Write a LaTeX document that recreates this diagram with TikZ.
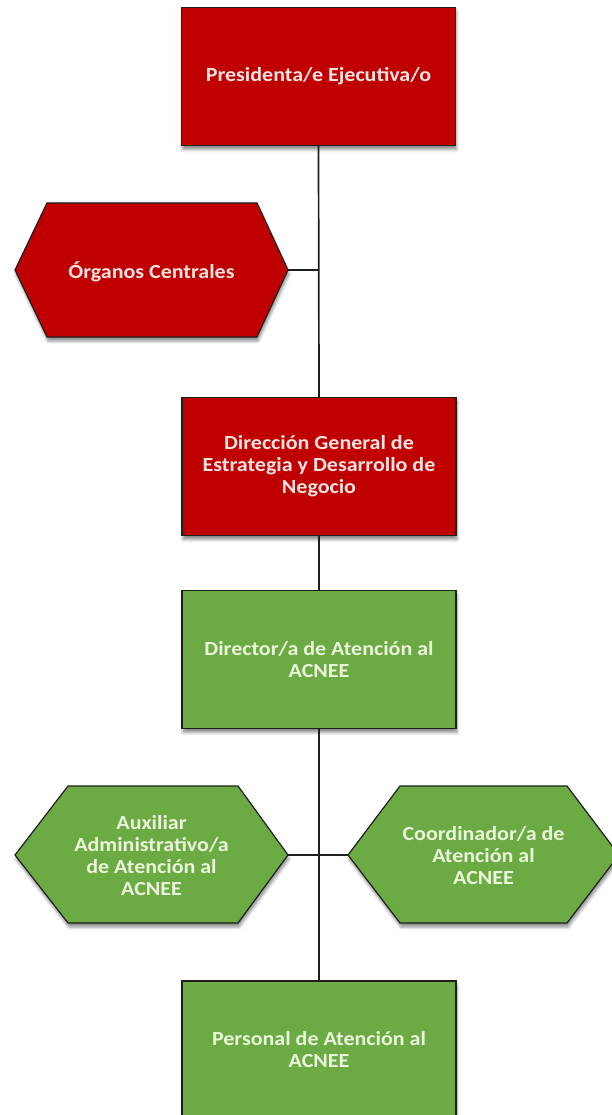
\documentclass[tikz,border=0pt]{standalone}
\usepackage{fontspec}
\setmainfont{Carlito}
\newfontfamily\boxfont[FakeStretch=1.1]{Carlito}
\usetikzlibrary{shadows.blur}
\definecolor{boxred}{HTML}{C00000}
\definecolor{boxgreen}{HTML}{6CAA44}
\definecolor{txtred}{HTML}{F8E4E2}
\definecolor{txtgreen}{HTML}{EAF6DC}
\definecolor{edge}{HTML}{1E1E1E}
\tikzset{
  shad/.style={blur shadow={shadow xshift=1pt, shadow yshift=-4pt, shadow blur radius=3pt, shadow opacity=45}},
  redbox/.style={draw=edge, line width=1.2pt, fill=boxred, shad, minimum width=274pt, minimum height=138pt, inner sep=0pt, text=txtred, font=\boxfont\fontsize{20}{22}\selectfont\bfseries, align=center},
  greenbox/.style={redbox, fill=boxgreen, text=txtgreen},
  redhex/.style={draw=edge, line width=1.2pt, fill=boxred, shad},
  greenhex/.style={redhex, fill=boxgreen},
  redtxt/.style={text=txtred, font=\boxfont\fontsize{20}{22}\selectfont\bfseries, align=center, inner sep=0pt},
  greentxt/.style={redtxt, text=txtgreen},
  conn/.style={draw=edge, line width=1.7pt}
}
\begin{document}
\begin{tikzpicture}[x=1pt,y=-1pt]
\useasboundingbox (0,0) rectangle (612,1115);
% boxes
\node[redbox] (pres) at (318.5,76.5) {Presidenta/e Ejecutiva/o};
\node[redbox] (dir) at (319,466.5) {Dirección General de\\Estrategia y Desarrollo de\\Negocio};
\node[greenbox] (acnee) at (319,659.5) {Director/a de Atención al\\ACNEE};
\node[greenbox] (pers) at (319,1050) {Personal de Atención al\\ACNEE};
% hexagons
\draw[redhex] (15,270) -- (47,203) -- (257,203) -- (288,270) -- (257,337) -- (47,337) -- cycle;
\node[redtxt] (org) at (151.5,272) {Órganos Centrales};
\coordinate (orgE) at (288,270);
\draw[greenhex] (15,855) -- (68,786) -- (238,786) -- (288,855) -- (238,923) -- (68,923) -- cycle;
\node[greentxt] (aux) at (151.5,856) {Auxiliar\\Administrativo/a\\de Atención al\\ACNEE};
\coordinate (auxE) at (288,855);
\draw[greenhex] (348,855) -- (400,786) -- (567,786) -- (619,855) -- (567,923) -- (400,923) -- cycle;
\node[greentxt] (coord) at (483.5,856) {Coordinador/a de\\Atención al\\ACNEE};
\coordinate (coordW) at (348,855);
% junctions
\coordinate (j1) at (pres.south |- orgE);
\coordinate (j2) at (acnee.south |- auxE);
% connectors
\draw[conn] (pres.south) -- (dir.north);
\draw[conn] (orgE) -- (j1);
\draw[conn] (dir.south) -- (acnee.north);
\draw[conn] (acnee.south) -- (pers.north);
\draw[conn] (auxE) -- (coordW);
\end{tikzpicture}
\end{document}
